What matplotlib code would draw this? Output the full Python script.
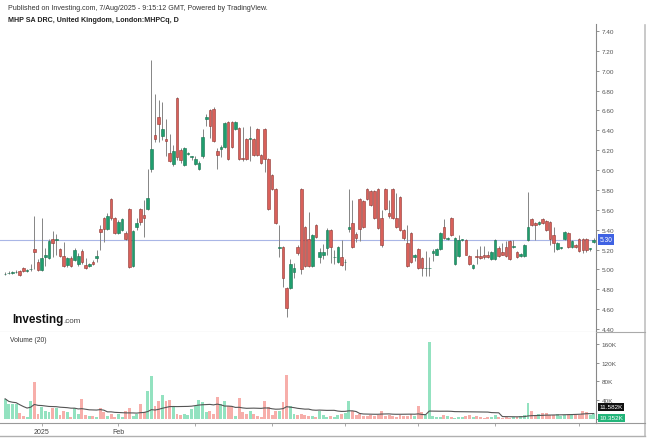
import matplotlib.pyplot as plt
import numpy as np
import pandas as pd
from matplotlib.ticker import FormatStrFormatter, FixedLocator
from matplotlib.lines import Line2D

plt.rcParams['font.family'] = ['Liberation Sans', 'DejaVu Sans']

# daily candles, MHPCq (London), mid-Dec 2024 .. 7 Aug 2025
opens = [4.95, 4.96, 4.96, 4.97, 4.98, 5.01, 4.98, 5.00, 5.21, 5.07,
         4.99, 5.12, 5.11, 5.31, 5.30, 5.21, 5.13, 5.04, 5.11, 5.09,
         5.05, 5.19, 5.04, 5.03, 5.07, 5.11, 5.41, 5.52, 5.41, 5.71,
         5.52, 5.37, 5.40, 5.37, 5.61, 5.03, 5.43, 5.61, 5.55, 5.61,
         6.01, 6.35, 6.53, 6.34, 6.31, 6.17, 6.06, 6.73, 6.20, 6.05,
         6.16, 6.13, 6.06, 6.01, 6.14, 6.51, 6.60, 6.61, 6.19, 6.21,
         6.23, 6.48, 6.48, 6.41, 6.42, 6.12, 6.31, 6.31, 6.31, 6.41,
         6.15, 6.41, 6.11, 5.95, 5.81, 5.22, 5.23, 4.81, 4.81, 4.97,
         5.23, 5.81, 5.43, 5.31, 5.03, 5.45, 5.12, 5.14, 5.22, 5.40,
         5.12, 5.07, 5.12, 5.07, 5.41, 5.47, 5.36, 5.71, 5.69, 5.81,
         5.79, 5.79, 5.81, 5.52, 5.81, 5.57, 5.81, 5.52, 5.73, 5.40,
         5.27, 5.37, 5.12, 5.21, 5.11, 5.01, 5.01, 5.17, 5.15, 5.21,
         5.43, 5.31, 5.52, 5.05, 5.13, 5.30, 5.30, 5.13, 5.01, 5.13,
         5.13, 5.15, 5.15, 5.10, 5.10, 5.22, 5.18, 5.23, 5.29, 5.23,
         5.18, 5.13, 5.13, 5.30, 5.51, 5.47, 5.46, 5.51, 5.49, 5.48,
         5.35, 5.21, 5.22, 5.31, 5.37, 5.23, 5.25, 5.31, 5.31, 5.31,
         5.21, 5.28]
highs = [4.97, 4.98, 4.98, 4.99, 4.99, 5.02, 5.00, 5.05, 5.54, 5.10,
         5.52, 5.22, 5.31, 5.39, 5.36, 5.22, 5.28, 5.12, 5.13, 5.22,
         5.17, 5.21, 5.11, 5.06, 5.09, 5.20, 5.45, 5.53, 5.57, 5.72,
         5.53, 5.50, 5.52, 5.39, 5.62, 5.40, 5.52, 5.62, 5.70, 6.01,
         7.11, 6.77, 6.71, 6.68, 6.51, 6.36, 6.25, 6.74, 6.22, 6.23,
         6.18, 6.14, 6.14, 6.09, 6.41, 6.56, 6.61, 6.63, 6.22, 6.25,
         6.48, 6.49, 6.49, 6.49, 6.43, 6.43, 6.32, 6.44, 6.32, 6.42,
         6.16, 6.42, 6.12, 5.96, 5.82, 5.45, 5.24, 4.82, 5.10, 5.06,
         5.25, 5.82, 5.44, 5.58, 5.36, 5.46, 5.22, 5.26, 5.42, 5.41,
         5.20, 5.24, 5.30, 5.10, 5.81, 5.70, 5.38, 5.72, 5.70, 5.82,
         5.80, 5.80, 5.82, 5.60, 5.82, 5.70, 5.82, 5.77, 5.74, 5.41,
         5.45, 5.38, 5.16, 5.22, 5.12, 5.19, 5.12, 5.21, 5.22, 5.38,
         5.51, 5.33, 5.53, 5.33, 5.35, 5.31, 5.31, 5.14, 5.05, 5.21,
         5.24, 5.24, 5.19, 5.19, 5.31, 5.24, 5.27, 5.29, 5.30, 5.30,
         5.19, 5.17, 5.26, 5.78, 5.52, 5.48, 5.49, 5.52, 5.50, 5.49,
         5.43, 5.28, 5.23, 5.39, 5.38, 5.30, 5.26, 5.32, 5.32, 5.32,
         5.22, 5.32]
lows = [4.94, 4.95, 4.95, 4.96, 4.93, 4.97, 4.97, 4.98, 5.00, 4.98,
        4.98, 5.03, 5.10, 5.12, 5.14, 5.12, 5.02, 5.02, 5.02, 5.08,
        5.03, 5.05, 5.00, 5.02, 5.04, 5.07, 5.20, 5.28, 5.40, 5.50,
        5.36, 5.36, 5.39, 5.30, 5.01, 5.02, 5.40, 5.45, 5.33, 5.60,
        5.98, 6.28, 6.28, 6.30, 6.14, 6.08, 6.04, 6.10, 6.07, 6.04,
        6.15, 6.10, 6.05, 6.00, 6.12, 6.44, 6.32, 6.28, 6.01, 6.13,
        6.22, 6.10, 6.22, 6.40, 6.10, 6.09, 6.10, 6.09, 6.14, 6.14,
        6.06, 5.98, 5.60, 5.80, 5.46, 5.12, 4.82, 4.52, 4.80, 4.91,
        5.15, 4.95, 5.02, 5.02, 5.02, 5.32, 5.06, 5.10, 5.15, 5.06,
        5.05, 5.06, 5.03, 4.99, 5.38, 5.22, 5.28, 5.29, 5.42, 5.70,
        5.64, 5.51, 5.41, 5.23, 5.60, 5.52, 5.51, 5.42, 5.39, 5.30,
        5.02, 5.06, 5.08, 5.00, 4.93, 4.93, 4.93, 5.08, 5.14, 5.20,
        5.31, 5.30, 5.34, 5.04, 5.12, 5.29, 5.14, 5.04, 5.00, 5.05,
        5.10, 5.10, 5.11, 5.09, 5.09, 5.12, 5.14, 5.12, 5.09, 5.22,
        5.11, 5.12, 5.12, 5.29, 5.44, 5.30, 5.45, 5.46, 5.39, 5.25,
        5.18, 5.20, 5.21, 5.30, 5.22, 5.22, 5.22, 5.18, 5.17, 5.18,
        5.19, 5.27]
closes = [4.95, 4.96, 4.97, 4.97, 4.94, 4.98, 4.99, 5.00, 5.18, 4.99,
          5.11, 5.14, 5.29, 5.27, 5.31, 5.13, 5.03, 5.11, 5.03, 5.20,
          5.13, 5.07, 5.01, 5.05, 5.05, 5.13, 5.38, 5.41, 5.54, 5.52,
          5.37, 5.48, 5.51, 5.31, 5.02, 5.39, 5.47, 5.48, 5.52, 5.72,
          6.21, 6.31, 6.46, 6.41, 6.29, 6.09, 6.19, 6.13, 6.10, 6.22,
          6.17, 6.13, 6.11, 6.07, 6.33, 6.53, 6.44, 6.29, 6.15, 6.23,
          6.47, 6.11, 6.23, 6.48, 6.11, 6.11, 6.11, 6.31, 6.15, 6.15,
          6.07, 6.11, 5.61, 5.81, 5.47, 5.22, 4.91, 4.61, 5.05, 5.01,
          5.17, 5.00, 5.03, 5.03, 5.35, 5.33, 5.18, 5.18, 5.40, 5.23,
          5.12, 5.23, 5.04, 5.07, 5.43, 5.23, 5.32, 5.41, 5.43, 5.71,
          5.65, 5.52, 5.42, 5.25, 5.61, 5.54, 5.52, 5.43, 5.40, 5.32,
          5.03, 5.07, 5.14, 5.01, 5.01, 5.01, 5.01, 5.19, 5.21, 5.37,
          5.32, 5.31, 5.35, 5.32, 5.30, 5.30, 5.15, 5.05, 5.04, 5.12,
          5.11, 5.12, 5.12, 5.18, 5.30, 5.13, 5.15, 5.13, 5.10, 5.23,
          5.12, 5.16, 5.25, 5.43, 5.45, 5.45, 5.48, 5.47, 5.40, 5.31,
          5.27, 5.27, 5.22, 5.38, 5.23, 5.29, 5.23, 5.19, 5.20, 5.20,
          5.21, 5.30]
# volume in thousands
volumes = [43, 32, 32, 32, 13, 7, 4, 38, 78, 11,
           25, 18, 14, 23, 23, 9, 18, 14, 4, 23,
           11, 43, 9, 6, 6, 4, 23, 14, 6, 11,
           4, 11, 4, 18, 23, 6, 11, 32, 14, 60,
           92, 28, 39, 51, 39, 41, 27, 11, 9, 11,
           9, 21, 28, 41, 36, 14, 18, 11, 46, 32,
           39, 27, 27, 6, 44, 14, 11, 16, 11, 6,
           4, 39, 25, 9, 18, 18, 37, 94, 28, 11,
           9, 11, 9, 7, 6, 4, 18, 9, 5, 7,
           5, 8, 10, 12, 39, 18, 8, 10, 7, 6,
           8, 6, 9, 16, 7, 9, 6, 5, 8, 6,
           7, 10, 6, 27, 14, 8, 163, 7, 5, 4,
           9, 6, 4, 3, 5, 4, 6, 8, 4, 6,
           5, 3, 4, 5, 8, 4, 3, 4, 3, 4,
           5, 7, 9, 33, 18, 8, 10, 13, 12, 9,
           8, 10, 6, 9, 10, 8, 10, 9, 17, 14,
           8.285, 10.352]

month_pos = [10, 31, 52, 73, 93, 113, 134, 157]
month_labels = ['2025', 'Feb', '', '', '', '', '', '']

title_line1 = 'Published on Investing.com, 7/Aug/2025 - 9:15:12 GMT, Powered by TradingView.'
title_line2 = 'MHP SA DRC, United Kingdom, London:MHPCq, D'

UP, DOWN = '#1f9e6e', '#d9605a'
UP_EDGE, DOWN_EDGE = '#16704d', '#8e3530'
VOL_UP, VOL_DOWN = '#93e2c0', '#f7aeaa'

o, h, l, c = map(np.array, (opens, highs, lows, closes))
idx = np.arange(len(c))
up = c >= o

fig = plt.figure(figsize=(6.5, 4.39), dpi=100)
ax = fig.add_axes([0, 1 - 333 / 439, 596 / 650, 308 / 439])
axv = fig.add_axes([0, 1 - 424 / 439, 596 / 650, 91 / 439], sharex=ax)

# candles
ax.vlines(idx, l, h, color='#858585', lw=0.7, zorder=1)
ax.bar(idx, np.maximum(np.abs(c - o), 0.008), bottom=np.minimum(o, c), width=0.72,
       color=np.where(up, UP, DOWN), edgecolor=np.where(up, UP_EDGE, DOWN_EDGE),
       linewidth=0.4, zorder=2)
ax.axhline(c[-1], color='#a9b6e6', lw=0.8, zorder=0)

ax.set_xlim(-1.4, len(c) - 0.4)
ax.set_ylim(4.37, 7.47)
ax.yaxis.tick_right()
ax.yaxis.set_major_locator(FixedLocator(np.round(np.arange(4.4, 7.41, 0.2), 2)))
ax.yaxis.set_major_formatter(FormatStrFormatter('%.2f'))
ax.tick_params(axis='y', labelsize=4.6, colors='#666', labelcolor='#555',
               length=2.5, width=0.5, pad=1.5)
ax.tick_params(axis='x', length=0, labelbottom=False)
for s in ('top', 'left'):
    ax.spines[s].set_visible(False)
ax.spines['right'].set_color('#888')
ax.spines['right'].set_linewidth(0.8)
ax.spines['bottom'].set_color('#aaa')
ax.spines['bottom'].set_linewidth(0.8)

ax.annotate(f'{c[-1]:.2f}', xy=(1, c[-1]), xycoords=('axes fraction', 'data'),
            xytext=(2.5, 0), textcoords='offset points', ha='left', va='center',
            fontsize=4.8, color='white', annotation_clip=False, zorder=5,
            bbox=dict(boxstyle='square,pad=0.25', fc='#3f62e3', ec='none'))

# volume
vma = pd.Series(volumes).rolling(20, min_periods=1).mean()
axv.bar(idx, volumes, width=0.8, color=np.where(up, VOL_UP, VOL_DOWN), zorder=1)
axv.plot(idx, vma, color='#555555', lw=0.8, zorder=2)
axv.set_ylim(-8.5, 185)
axv.yaxis.tick_right()
axv.set_yticks([0, 40, 80, 120, 160])
axv.set_yticklabels(['', '40K', '80K', '120K', '160K'])
axv.tick_params(axis='y', labelsize=4.6, colors='#666', labelcolor='#555',
                length=2.5, width=0.5, pad=1.5)
axv.set_xticks(month_pos)
axv.set_xticklabels(month_labels)
axv.tick_params(axis='x', labelsize=5, colors='#888', labelcolor='#444',
                length=2.5, width=0.5, pad=1)
for s in ('top', 'left'):
    axv.spines[s].set_visible(False)
axv.spines['right'].set_color('#888')
axv.spines['right'].set_linewidth(0.8)
axv.spines['bottom'].set_color('#999')
axv.spines['bottom'].set_linewidth(0.8)

axv.annotate(f'{vma.iloc[-1]:.3f}K', xy=(1, vma.iloc[-1]), xycoords=('axes fraction', 'data'),
             xytext=(2.5, 5), textcoords='offset points', ha='left', va='center',
             fontsize=4.6, color='white', annotation_clip=False, zorder=5,
             bbox=dict(boxstyle='square,pad=0.25', fc='#111111', ec='none'))
axv.annotate(f'{volumes[-1]:.3f}K', xy=(1, volumes[-1]), xycoords=('axes fraction', 'data'),
             xytext=(2.5, -2.5), textcoords='offset points', ha='left', va='center',
             fontsize=4.6, color='white', annotation_clip=False, zorder=5,
             bbox=dict(boxstyle='square,pad=0.25', fc='#23b57a', ec='none'))
axv.text(10 / 596, 0.92, 'Volume (20)', transform=axv.transAxes, fontsize=4.9,
         color='#333', va='center', ha='left')

# header and branding
fig.text(8 / 650, 1 - 8 / 439, title_line1, fontsize=5.1, color='#333', va='center')
fig.text(8 / 650, 1 - 21 / 439, title_line2, fontsize=5.1, color='#222',
         fontweight='bold', va='center')
fig.text(12 / 650, 1 - 320 / 439, 'Investing', fontsize=8.4, fontweight='bold',
         color='#111', va='center')
fig.text(63.5 / 650, 1 - 321.5 / 439, '.com', fontsize=5.8, color='#444', va='center')

# outer frame lines
fig.add_artist(Line2D([645 / 650, 645 / 650], [1 - 437 / 439, 1 - 26 / 439],
                      transform=fig.transFigure, color='#c0c0c0', lw=1.2))
fig.add_artist(Line2D([0, 645 / 650], [1 - 437 / 439, 1 - 437 / 439],
                      transform=fig.transFigure, color='#b0b0b0', lw=1.0))
fig.add_artist(Line2D([596 / 650, 645 / 650], [1 - 333 / 439, 1 - 333 / 439],
                      transform=fig.transFigure, color='#aaa', lw=0.8))
fig.add_artist(Line2D([596 / 650, 645 / 650], [1 - 424 / 439, 1 - 424 / 439],
                      transform=fig.transFigure, color='#999', lw=0.8))

fig.savefig('out.png', dpi=100)
